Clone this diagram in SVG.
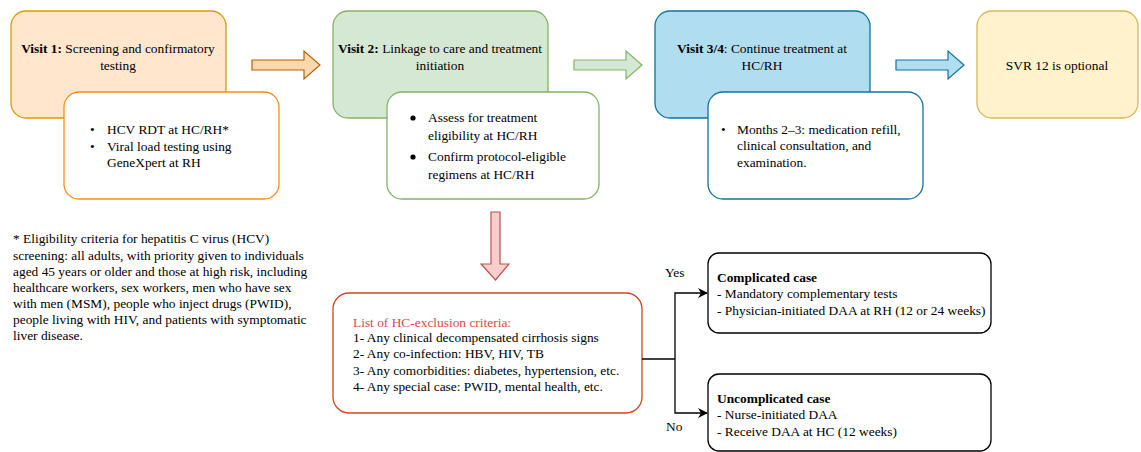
<svg xmlns="http://www.w3.org/2000/svg" width="1141" height="452" viewBox="0 0 1141 452" font-family="'Liberation Serif','Times New Roman',serif">
<defs>
<style>
text{font-family:"Liberation Serif","Times New Roman",serif;font-size:13.4px;fill:#000}
.c{text-anchor:middle}
.b{font-weight:bold}
.inner{fill:#fff;stroke-width:1.3}
.main{stroke-width:1.3}
.line{fill:none;stroke:#000;stroke-width:1.3}
</style>
<marker id="ah" viewBox="0 0 10 10" refX="9" refY="5" markerWidth="10" markerHeight="10" markerUnits="userSpaceOnUse" orient="auto">
<path d="M0,0 L10,5 L0,10 L3,5 Z" fill="#000"/>
</marker>
</defs>
<rect width="1141" height="452" fill="#fff"/>

<g id="visit1">
<rect class="main" x="11" y="11" width="215" height="107" rx="15" fill="#ffe6cc" stroke="#d79b00"/>
<text class="c" x="118" y="53"><tspan class="b">Visit 1:</tspan> Screening and confirmatory</text>
<text class="c" x="118" y="70">testing</text>
</g>
<g id="visit1-details">
<rect class="inner" x="64" y="92" width="215" height="107" rx="15" stroke="#ff8c1a"/>
<text x="90" y="134">•</text><text x="107" y="134">HCV RDT at HC/RH*</text>
<text x="90" y="151">•</text><text x="107" y="151">Viral load testing using</text>
<text x="107" y="167">GeneXpert at RH</text>
</g>

<g id="visit2">
<rect class="main" x="333" y="11" width="215" height="107" rx="15" fill="#d5e8d4" stroke="#82b366"/>
<text class="c" x="440" y="53"><tspan class="b">Visit 2:</tspan> Linkage to care and treatment</text>
<text class="c" x="440" y="70">initiation</text>
</g>
<g id="visit2-details">
<rect class="inner" x="387" y="92" width="212" height="107" rx="15" stroke="#82b366"/>
<circle cx="413" cy="118" r="2.6" fill="#000"/><text x="428" y="122">Assess for treatment</text>
<text x="428" y="140">eligibility at HC/RH</text>
<circle cx="413" cy="157" r="2.6" fill="#000"/><text x="428" y="161">Confirm protocol-eligible</text>
<text x="428" y="179">regimens at HC/RH</text>
</g>

<g id="visit34">
<rect class="main" x="655" y="11" width="215" height="107" rx="15" fill="#b1ddf0" stroke="#10739e"/>
<text class="c" x="762" y="53"><tspan class="b">Visit 3/4</tspan>: Continue treatment at</text>
<text class="c" x="762" y="70">HC/RH</text>
</g>
<g id="visit34-details">
<rect class="inner" x="708" y="92" width="215" height="107" rx="15" stroke="#10739e"/>
<text x="721" y="134">•</text><text x="737" y="134">Months 2–3: medication refill,</text>
<text x="737" y="150">clinical consultation, and</text>
<text x="737" y="167">examination.</text>
</g>

<g id="svr">
<rect class="main" x="977" y="11" width="161" height="107" rx="15" fill="#fff2cc" stroke="#d6b656"/>
<text class="c" x="1057" y="70">SVR 12 is optional</text>
</g>

<g id="footnote">
<text x="13" y="243">* Eligibility criteria for hepatitis C virus (HCV)</text>
<text x="13" y="260">screening: all adults, with priority given to individuals</text>
<text x="13" y="276">aged 45 years or older and those at high risk, including</text>
<text x="13" y="292">healthcare workers, sex workers, men who have sex</text>
<text x="13" y="308">with men (MSM), people who inject drugs (PWID),</text>
<text x="13" y="324">people living with HIV, and patients with symptomatic</text>
<text x="13" y="340">liver disease.</text>
</g>

<g id="exclusion">
<rect x="333" y="293" width="309" height="120" rx="16" fill="#fff" stroke="#c9471e" stroke-width="1.3"/>
<text x="353" y="327" style="fill:#e04848">List of HC-exclusion criteria:</text>
<text x="353" y="342">1- Any clinical decompensated cirrhosis signs</text>
<text x="353" y="358">2- Any co-infection: HBV, HIV, TB</text>
<text x="353" y="375">3- Any comorbidities: diabetes, hypertension, etc.</text>
<text x="353" y="391">4- Any special case: PWID, mental health, etc.</text>
</g>

<g id="complicated">
<rect x="708" y="253" width="283" height="80" rx="11" fill="#fff" stroke="#000" stroke-width="1.3"/>
<text class="b" x="717" y="282">Complicated case</text>
<text x="717" y="298">- Mandatory complementary tests</text>
<text x="717" y="315">- Physician-initiated DAA at RH (12 or 24 weeks)</text>
</g>

<g id="uncomplicated">
<rect x="708" y="374" width="283" height="77" rx="11" fill="#fff" stroke="#000" stroke-width="1.3"/>
<text class="b" x="717" y="403">Uncomplicated case</text>
<text x="717" y="419">- Nurse-initiated DAA</text>
<text x="717" y="436">- Receive DAA at HC (12 weeks)</text>
</g>

<g id="connectors">
<polygon points="252,60 304,60 304,51 320,65 304,79 304,70 252,70" fill="#fad7ac" stroke="#b46504" stroke-width="1.2"/>
<polygon points="574,60 626,60 626,51 642,65 626,79 626,70 574,70" fill="#d5e8d4" stroke="#82b366" stroke-width="1.2"/>
<polygon points="896,60 948,60 948,51 964,65 948,79 948,70 896,70" fill="#b1ddf0" stroke="#10739e" stroke-width="1.2"/>
<polygon points="491,212 500,212 500,264 509,264 495.5,280 481,264 491,264" fill="#f8cecc" stroke="#b85450" stroke-width="1.2"/>
<path class="line" d="M642,359 H675"/>
<path class="line" d="M675,359 V293 H707" marker-end="url(#ah)"/>
<path class="line" d="M675,359 V413 H707" marker-end="url(#ah)"/>
<text x="665" y="277">Yes</text>
<text x="666" y="431">No</text>
</g>
</svg>
